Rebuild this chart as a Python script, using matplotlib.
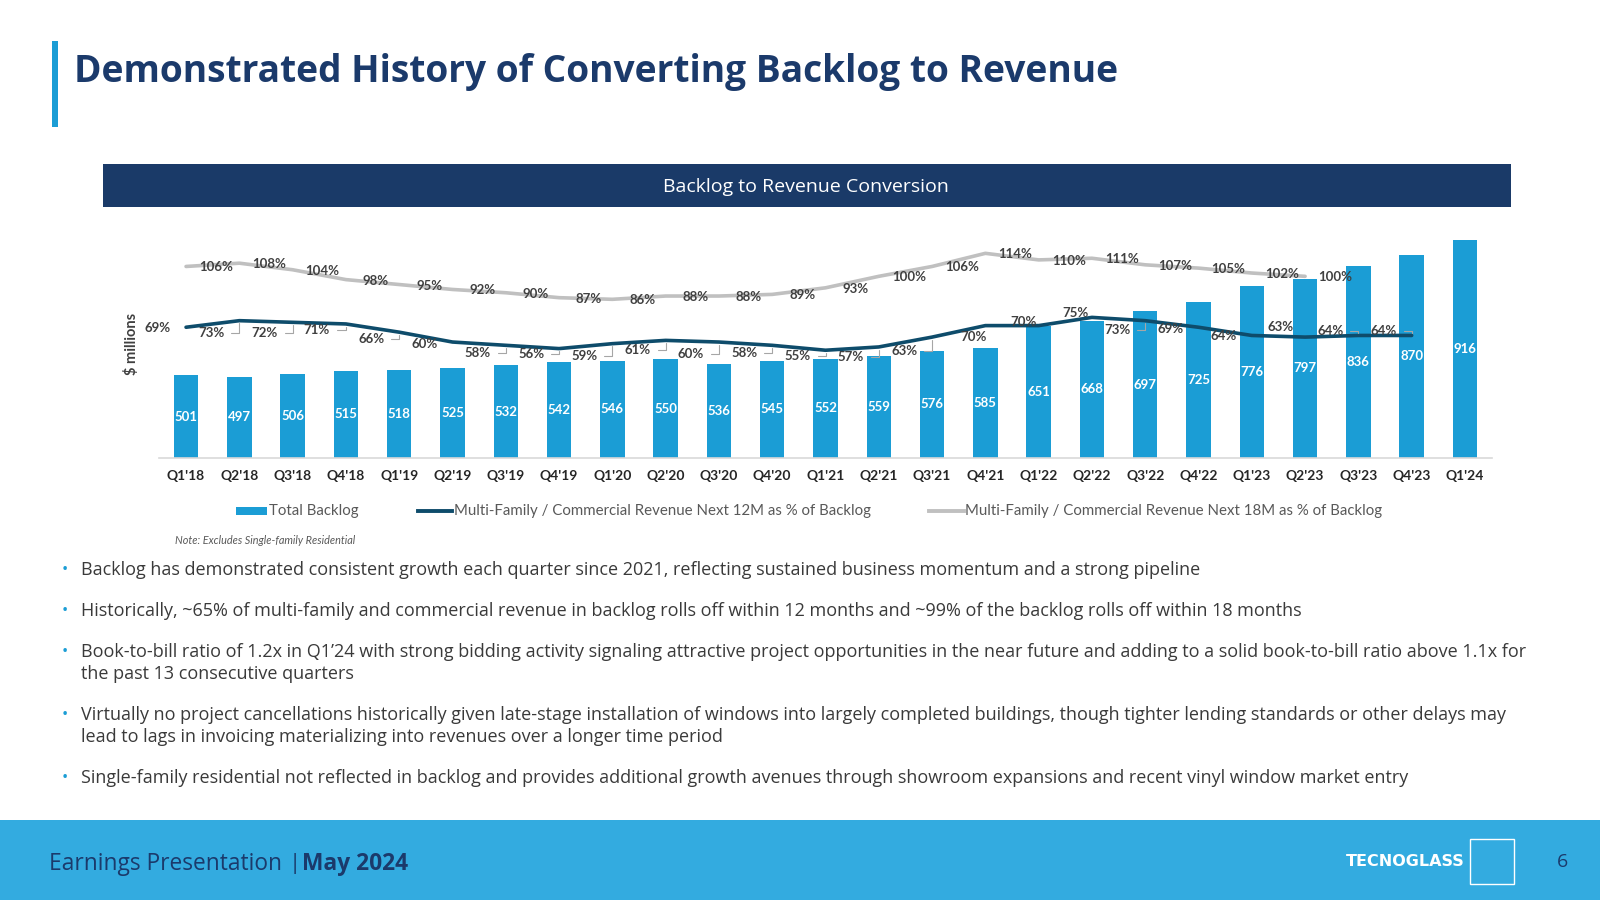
import numpy as np
import matplotlib.pyplot as plt
from matplotlib.patches import Rectangle
from matplotlib.lines import Line2D

# data
quarters = ["Q1'18", "Q2'18", "Q3'18", "Q4'18", "Q1'19", "Q2'19", "Q3'19", "Q4'19",
            "Q1'20", "Q2'20", "Q3'20", "Q4'20", "Q1'21", "Q2'21", "Q3'21", "Q4'21",
            "Q1'22", "Q2'22", "Q3'22", "Q4'22", "Q1'23", "Q2'23", "Q3'23", "Q4'23", "Q1'24"]
backlog = [501, 497, 506, 515, 518, 525, 532, 542, 546, 550, 536, 545, 552, 559, 576, 585,
           651, 668, 697, 725, 776, 797, 836, 870, 916]
pct_12m = [69, 73, 72, 71, 66, 60, 58, 56, 59, 61, 60, 58, 55, 57, 63, 70,
           70, 75, 73, 69, 64, 63, 64, 64]
pct_18m = [106, 108, 104, 98, 95, 92, 90, 87, 86, 88, 88, 89, 93, 100, 106, 114,
           110, 111, 107, 105, 102, 100]

bullets = [
    ["Backlog has demonstrated consistent growth each quarter since 2021, reflecting sustained business momentum and a strong pipeline"],
    ["Historically, ~65% of multi-family and commercial revenue in backlog rolls off within 12 months and ~99% of the backlog rolls off within 18 months"],
    ["Book-to-bill ratio of 1.2x in Q1\u201924 with strong bidding activity signaling attractive project opportunities in the near future and adding to a solid book-to-bill ratio above 1.1x for",
     "the past 13 consecutive quarters"],
    ["Virtually no project cancellations historically given late-stage installation of windows into largely completed buildings, though tighter lending standards or other delays may",
     "lead to lags in invoicing materializing into revenues over a longer time period"],
    ["Single-family residential not reflected in backlog and provides additional growth avenues through showroom expansions and recent vinyl window market entry"],
]

# label placement for the 12M line (pixels, dy positive = downwards)
dx_12m = [-28, -28, -28, -29, -28, -28, -28, -28, -28, -28, -28, -28, -28, -28, -28, -12,
          -15, -16, -28, -28, -28, -25, -28, -28]
dy_12m = [1, 12, 11, 6, 7, 2, 8, 5, 12, 10, 12, 8, 6, 10, 14, 11,
          -4, -4, 9, 2, 1, -10, -4, -4]
leader_12m = [1, 2, 3, 4, 6, 7, 8, 9, 10, 11, 12, 13, 14, 18, 22, 23]

NAVY = '#1b3a6b'
BLUE = '#1b9dd5'
DARK = '#0e4c6b'
GREY = '#c0c0c0'
TXT = '#404040'

W, H = 1600, 900
fig = plt.figure(figsize=(16, 9), dpi=100)

# page layer in pixel coordinates
bg = fig.add_axes([0, 0, 1, 1], zorder=0)
bg.set_xlim(0, W)
bg.set_ylim(H, 0)
bg.axis('off')

bg.add_patch(Rectangle((52, 41), 6, 86, color=BLUE, lw=0))
bg.text(74, 72, "Demonstrated History of Converting Backlog to Revenue", fontsize=26.7,
        fontweight='bold', color=NAVY, family='Open Sans', va='center', ha='left')

bg.add_patch(Rectangle((103, 164), 1408, 43, color='#1a3a68', lw=0))
bg.text(806, 187, "Backlog to Revenue Conversion", fontsize=14, color='white',
        family='Open Sans', ha='center', va='center')

# legend
bg.add_patch(Rectangle((236, 507), 31, 8, color=BLUE, lw=0))
bg.text(269, 511, "Total Backlog", fontsize=10.8, color='#595959', family='Lato', va='center')
bg.add_line(Line2D([418, 452], [511, 511], color=DARK, lw=2.8))
bg.text(454, 511, "Multi-Family / Commercial Revenue Next 12M as % of Backlog", fontsize=10.8,
        color='#595959', family='Lato', va='center')
bg.add_line(Line2D([929, 964], [511, 511], color=GREY, lw=2.8))
bg.text(965, 511, "Multi-Family / Commercial Revenue Next 18M as % of Backlog", fontsize=10.8,
        color='#595959', family='Lato', va='center')
bg.text(175, 540, "Note: Excludes Single-family Residential", fontsize=7.8, style='italic',
        color='#595959', family='Lato', va='center')

# bullet points
y = 570
for b in bullets:
    bg.text(62, y, "\u2022", fontsize=12, color=BLUE, family='Open Sans', va='center')
    for line in b:
        bg.text(81, y, line, fontsize=13, color='#3a3a3a', family='Open Sans', va='center')
        y += 22.4
    y += 18.5

# footer
bg.add_patch(Rectangle((0, 819.5), W, 81, color='#33abe0', lw=0))
bg.text(49, 864, "Earnings Presentation", fontsize=16.4, color=NAVY, family='Open Sans', va='center')
bg.text(289, 864, "|", fontsize=16, color=NAVY, family='Open Sans', va='center')
bg.text(302, 864, "May 2024", fontsize=16.4, fontweight='bold', color=NAVY, family='Open Sans', va='center')
bg.text(1557, 862, "6", fontsize=14, color=NAVY, family='Open Sans', va='center')
bg.text(1465, 862, "TECNOGLASS", fontsize=11.5, fontweight='bold', color='white', family='DejaVu Sans',
        ha='right', va='center')
bg.add_patch(Rectangle((1470, 839), 44, 45, fill=False, ec='white', lw=1))

# chart
ax = fig.add_axes([159.4 / W, (H - 458) / H, 1332.2 / W, 228 / H], zorder=2)
ax.patch.set_alpha(0)
x = np.arange(len(quarters))
ymin = 248
ax.bar(x, backlog, width=0.46, color=BLUE, bottom=0, zorder=1)
ax.set_ylim(ymin, 946)
ax.set_xlim(-0.5, len(quarters) - 0.5)
for i, v in enumerate(backlog):
    ax.text(i, (ymin + v) / 2, str(v), ha='center', va='center', color='white',
            fontsize=9.5, fontweight='bold', family='Lato', zorder=3)
ax.set_xticks(x)
ax.set_xticklabels(quarters, fontsize=10, fontweight='bold', family='Lato', color='#262626')
ax.tick_params(axis='x', length=0, pad=9)
ax.set_yticks([])
for s in ['top', 'left', 'right']:
    ax.spines[s].set_visible(False)
ax.spines['bottom'].set_color('#d9d9d9')
ax.spines['bottom'].set_linewidth(1.2)
ax.set_ylabel("$ millions", fontsize=10.5, fontweight='bold', family='Lato', color=TXT, labelpad=15)

ax2 = ax.twinx()
ax2.set_ylim(-10.6, 128.2)
ax2.set_yticks([])
for s in ax2.spines.values():
    s.set_visible(False)
ax2.plot(np.arange(len(pct_18m)), pct_18m, color=GREY, lw=2.6, solid_joinstyle='round',
         solid_capstyle='round', zorder=2)
ax2.plot(np.arange(len(pct_12m)), pct_12m, color=DARK, lw=2.6, solid_joinstyle='round',
         solid_capstyle='round', zorder=2)

for i, v in enumerate(pct_18m):
    ax2.annotate(f"{v}%", (i, v), xytext=(30, -1), textcoords='offset pixels', ha='center',
                 va='center', fontsize=9.5, fontweight='bold', family='Lato', color=TXT)
for i, v in enumerate(pct_12m):
    props = None
    if i in leader_12m:
        props = dict(arrowstyle='-', color='#a6a6a6', lw=0.8, shrinkA=3, shrinkB=2,
                     relpos=(1, 0.5), connectionstyle='angle,angleA=0,angleB=90,rad=0')
    ax2.annotate(f"{v}%", (i, v), xytext=(dx_12m[i], -dy_12m[i]), textcoords='offset pixels',
                 ha='center', va='center', fontsize=9.5, fontweight='bold', family='Lato',
                 color=TXT, arrowprops=props)

fig.savefig('out.png', dpi=100)
